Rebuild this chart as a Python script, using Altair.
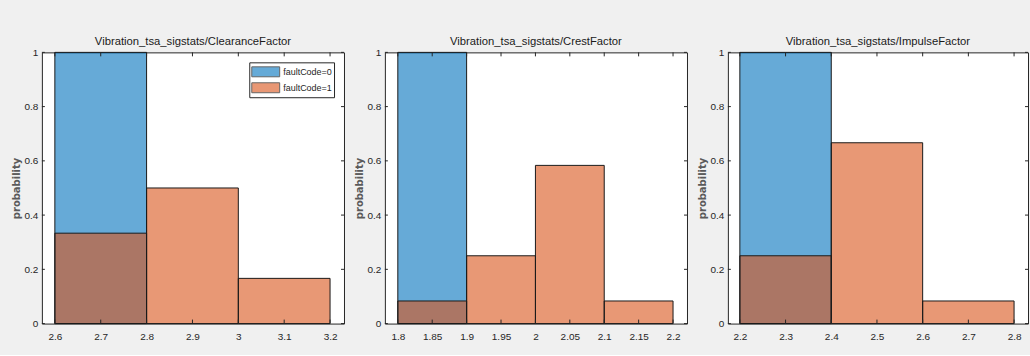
import altair as alt
import pandas as pd

# ---------------- data ----------------
titles = [
    "Vibration_tsa_sigstats/ClearanceFactor",
    "Vibration_tsa_sigstats/CrestFactor",
    "Vibration_tsa_sigstats/ImpulseFactor",
]
series_names = ["faultCode=0", "faultCode=1"]
series_colors = ["#0072bd", "#d95319"]

# ClearanceFactor
clear_edges_0 = [2.6, 2.8]
clear_prob_0 = [1.0]
clear_edges_1 = [2.6, 2.8, 3.0, 3.2]
clear_prob_1 = [0.3333, 0.5, 0.1667]

# CrestFactor
crest_edges_0 = [1.8, 1.9]
crest_prob_0 = [1.0]
crest_edges_1 = [1.8, 1.9, 2.0, 2.1, 2.2]
crest_prob_1 = [0.0833, 0.25, 0.5833, 0.0833]

# ImpulseFactor
impulse_edges_0 = [2.2, 2.4]
impulse_prob_0 = [1.0]
impulse_edges_1 = [2.2, 2.4, 2.6, 2.8]
impulse_prob_1 = [0.25, 0.6667, 0.0833]

x_domains = [[2.5717, 3.2304], [1.7812, 2.2203], [2.1738, 2.8305]]
x_ticks = [
    [2.6, 2.7, 2.8, 2.9, 3.0, 3.1, 3.2],
    [1.8, 1.85, 1.9, 1.95, 2.0, 2.05, 2.1, 2.15, 2.2],
    [2.2, 2.3, 2.4, 2.5, 2.6, 2.7, 2.8],
]
y_ticks = [0, 0.2, 0.4, 0.6, 0.8, 1.0]

panel_data = [
    (clear_edges_0, clear_prob_0, clear_edges_1, clear_prob_1),
    (crest_edges_0, crest_prob_0, crest_edges_1, crest_prob_1),
    (impulse_edges_0, impulse_prob_0, impulse_edges_1, impulse_prob_1),
]
widths = [303, 303, 301]
H = 272

FONT = "Liberation Sans, Arial, sans-serif"
AX = "#262626"


def hist_frame(edges0, prob0, edges1, prob1):
    rows = []
    for name, edges, probs in ((series_names[0], edges0, prob0), (series_names[1], edges1, prob1)):
        for a, b, p in zip(edges[:-1], edges[1:], probs):
            rows.append({"series": name, "x0": a, "x1": b, "p": p})
    return pd.DataFrame(rows)


def panel(i):
    W = widths[i]
    df = hist_frame(*panel_data[i])
    xs = alt.Scale(domain=x_domains[i], nice=False, zero=False)
    ys = alt.Scale(domain=[0, 1], nice=False)
    xaxis = alt.Axis(values=x_ticks[i], title=None, ticks=False, domain=False, grid=False,
                     labelPadding=8, labelFont=FONT, labelFontSize=10, labelColor=AX,
                     labelExpr="format(datum.value, '~g')")
    yaxis = alt.Axis(values=y_ticks, title="probability", ticks=False, domain=False, grid=False,
                     labelPadding=4, labelFont=FONT, labelFontSize=10, labelColor=AX,
                     labelExpr="format(datum.value, '~g')",
                     titleFont="DejaVu Sans", titleFontSize=10, titleFontWeight="bold",
                     titleColor="#5a5a5a", titlePadding=3)

    base = alt.Chart(df)
    legend = None
    if i == 0:
        legend = alt.Legend(
            title=None, orient="top-right", offset=10, padding=2,
            strokeColor=AX, fillColor="white", cornerRadius=0,
            symbolType="M-1,-0.714H3V0.714H-1Z", symbolSize=196,
            symbolStrokeColor="black", symbolStrokeWidth=1, symbolOpacity=0.6,
            labelFont=FONT, labelFontSize=9, labelColor=AX, labelOffset=17,
            rowPadding=1,
        )
    fills = base.mark_bar(opacity=0.6, strokeWidth=0).encode(
        x=alt.X("x0:Q", scale=xs, axis=xaxis),
        x2="x1:Q",
        y=alt.Y("p:Q", scale=ys, axis=yaxis, stack=None),
        y2=alt.datum(0),
        color=alt.Color("series:N", scale=alt.Scale(domain=series_names, range=series_colors),
                        legend=legend),
    )
    edges = base.mark_bar(filled=False, stroke="#1a1a1a", strokeWidth=1).encode(
        x=alt.X("x0:Q", scale=xs, axis=xaxis),
        x2="x1:Q",
        y=alt.Y("p:Q", scale=ys, axis=yaxis, stack=None),
        y2=alt.datum(0),
    )

    xt = pd.DataFrame({"xt": x_ticks[i]})
    yt = pd.DataFrame({"yt": y_ticks})
    xb = alt.Chart(xt).mark_rule(color=AX, strokeWidth=1).encode(
        x=alt.X("xt:Q", scale=xs, axis=xaxis), y=alt.value(H), y2=alt.value(H - 4))
    xtop = alt.Chart(xt).mark_rule(color=AX, strokeWidth=1).encode(
        x=alt.X("xt:Q", scale=xs, axis=xaxis), y=alt.value(0), y2=alt.value(4))
    yl = alt.Chart(yt).mark_rule(color=AX, strokeWidth=1).encode(
        y=alt.Y("yt:Q", scale=ys, axis=yaxis), x=alt.value(0), x2=alt.value(3))
    yr = alt.Chart(yt).mark_rule(color=AX, strokeWidth=1).encode(
        y=alt.Y("yt:Q", scale=ys, axis=yaxis), x=alt.value(W - 3), x2=alt.value(W))

    return alt.layer(fills, edges, xb, xtop, yl, yr).properties(
        width=W, height=H,
        title=alt.Title(titles[i], font=FONT, fontSize=11.3, fontWeight="normal",
                        color="#1a1a1a", offset=0, anchor="middle"),
    )


chart = alt.HConcatChart(
    hconcat=[panel(0), panel(1), panel(2)], spacing=41, bounds="flush"
).resolve_scale(
    color="independent"
).resolve_legend(
    color="independent"
).properties(
    background="#f0f0f0",
    padding={"left": 10, "top": 35, "right": 1, "bottom": 12},
).configure_view(
    stroke=AX, strokeWidth=1, fill="white"
)

chart.save("out.html", embed_options={"renderer": "svg", "actions": False})
